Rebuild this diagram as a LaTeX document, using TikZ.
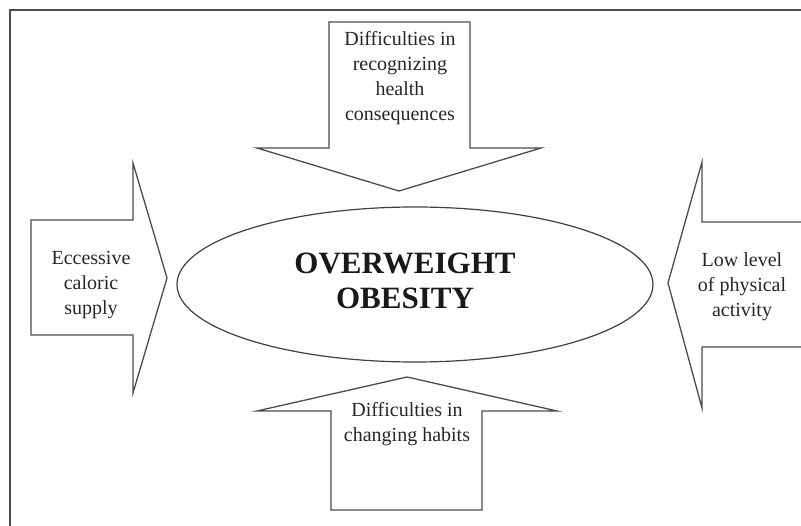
\documentclass[tikz,border=0pt]{standalone}
\usepackage{fontspec}
\setmainfont{Liberation Serif}
\usetikzlibrary{shapes.geometric}

\begin{document}
\begin{tikzpicture}[x=1pt,y=-1pt,
		blockarrow/.style={draw=black!70,line width=1.3pt,line join=miter},
		txt/.style={align=center,inner sep=0pt,text=black!85,font=\fontsize{20}{25}\selectfont},
		big/.style={align=center,inner sep=0pt,text=black!90,font=\fontsize{31}{35}\selectfont\bfseries}]
		\useasboundingbox (0,0) rectangle (801,526);
		
		% frame
		\draw[black!70,line width=1.4pt] (801,10) -- (10,10) -- (10,526);
		
		% centre
		\node[ellipse,draw=black!75,line width=1.2pt,minimum width=476pt,minimum height=155pt,inner sep=0pt] (obesity) at (415,284.5) {};
		\node[big] (obtext) at (405,281) {OVERWEIGHT\\OBESITY};
		
		% top arrow
		\draw[blockarrow] (329,148) -- (329,22) -- (470,22) -- (470,148) -- (541,148) -- (399,191) -- (257,148) -- cycle;
		\node[txt] (health) at (400,78) {Difficulties in\\recognizing\\health\\consequences};
		
		% left arrow
		\draw[blockarrow] (31,220) -- (133,220) -- (133,163) -- (167,278) -- (133,393) -- (133,335) -- (31,335) -- cycle;
		\node[txt] (caloric) at (91,285) {Eccessive\\caloric\\supply};
		
		% right arrow
		\draw[blockarrow] (802,222) -- (702,222) -- (702,162) -- (668,283) -- (702,408) -- (702,347) -- (802,347);
		\node[txt] (physical) at (742,287) {Low level\\of physical\\activity};
		
		% bottom arrow
		\draw[blockarrow] (331,510) -- (331,411) -- (257,411) -- (407,377) -- (557,411) -- (482,411) -- (482,510) -- cycle;
		\node[txt] (habits) at (407,424.5) {Difficulties in\\changing habits};
\end{tikzpicture}
\end{document}
